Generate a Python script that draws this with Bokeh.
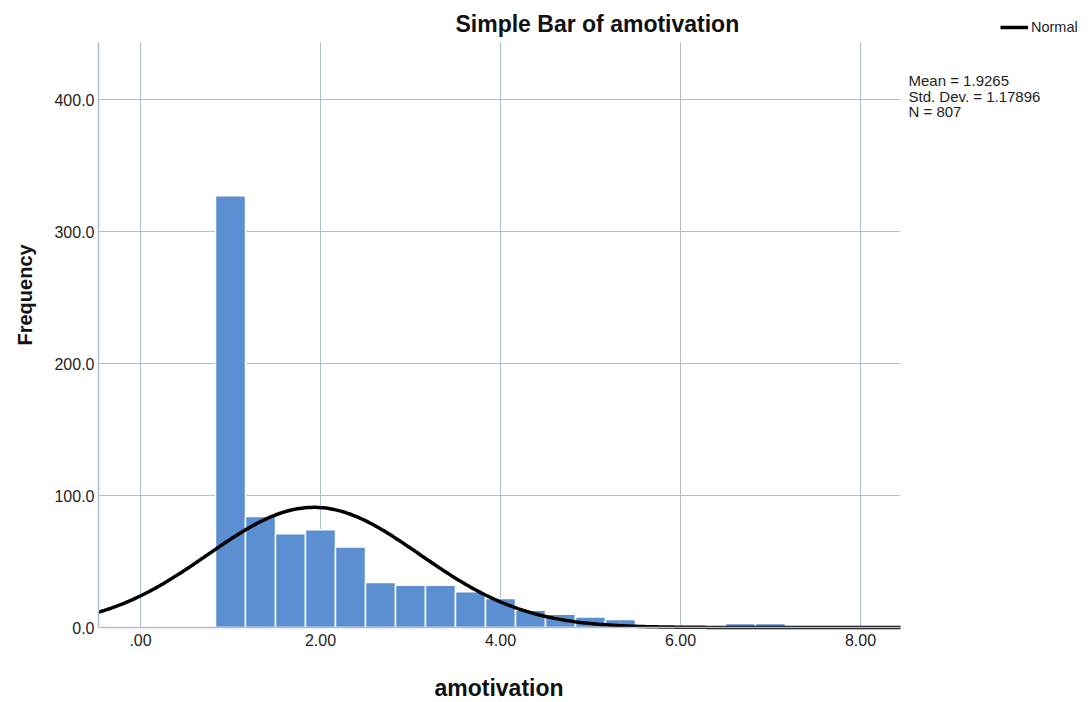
from bokeh.plotting import figure
from bokeh.models import (Range1d, FixedTicker, Label, Legend, LegendItem, Title,
                          ColumnDataSource, CustomJSTickFormatter)
from bokeh.embed import file_html
from bokeh.resources import INLINE
import numpy as np

# Histogram of amotivation scores (bins of width 1/3)
bin_width = 1.0 / 3.0
bin_centers = [1.0, 4/3, 5/3, 2.0, 7/3, 8/3, 3.0, 10/3, 11/3, 4.0, 13/3, 14/3, 5.0, 16/3, 20/3, 7.0]
frequencies = [327, 84, 71, 74, 61, 34, 32, 32, 27, 22, 13, 10, 8, 6, 3, 3]

# Summary statistics
mean = 1.9265
std_dev = 1.17896
n_obs = 807

x_ticks = [0, 2, 4, 6, 8]
x_tick_labels = [".00", "2.00", "4.00", "6.00", "8.00"]
y_ticks = [0, 100, 200, 300, 400]

FONT = "Liberation Sans"
GRID = "#b0bfcf"
BAR = "#5b8fd1"
TEXT = "#1e1e1e"

# Chart area extents (data units); the frame covers the whole canvas right of
# the y axis, so captions, legend and statistics can all live inside it.
X_MIN, X_MAX = -0.4667, 8.444
Y_MAX = 443.2
PX_PER_X = 90.0          # pixels per x unit
PX_PER_Y = 1.32          # pixels per count
LEFT, BOTTOM = 98, 627   # pixel position of the chart origin corner
W, H = 1090, 702


def sx(px):
    """Data x for a pixel column."""
    return X_MIN + (px - LEFT) / PX_PER_X


def sy(py):
    """Data y for a pixel row."""
    return (BOTTOM - py) / PX_PER_Y


p = figure(width=W, height=H, output_backend="svg", toolbar_location=None,
           title=None,
           x_range=Range1d(X_MIN, sx(W)), y_range=Range1d(sy(H), sy(0)),
           min_border_left=LEFT, min_border_right=0, min_border_top=0,
           min_border_bottom=0)
p.outline_line_color = None
p.xgrid.visible = False
p.ygrid.visible = False

# Grid lines, limited to the chart area
p.segment(x0=x_ticks, x1=x_ticks, y0=0, y1=Y_MAX, line_color=GRID, line_width=1)
p.segment(x0=X_MIN, x1=X_MAX, y0=y_ticks[1:], y1=y_ticks[1:], line_color=GRID, line_width=1)

# Bars
src = ColumnDataSource(dict(x=bin_centers, top=frequencies))
p.vbar(x="x", top="top", width=bin_width, source=src, fill_color=BAR,
       line_color="white", line_width=1.5)

# Normal curve scaled to counts per bin
xs = np.linspace(X_MIN, X_MAX, 400)
ys = n_obs * bin_width / (std_dev * np.sqrt(2 * np.pi)) * np.exp(-0.5 * ((xs - mean) / std_dev) ** 2)
curve = p.line(xs, ys, line_color="black", line_width=3.5)

# Axes
for ax in (p.xaxis[0], p.yaxis[0]):
    ax.axis_line_color = GRID
    ax.axis_line_width = 1.5
    ax.major_tick_out = 0
    ax.major_tick_in = 0
    ax.minor_tick_out = 0
    ax.minor_tick_in = 0
    ax.major_label_text_font = FONT
    ax.major_label_text_font_size = "16px"
    ax.major_label_text_color = TEXT

# x axis drawn at zero count, inside the frame
p.xaxis.fixed_location = 0
p.xaxis.bounds = (X_MIN, X_MAX)
p.xaxis.ticker = FixedTicker(ticks=x_ticks)
p.xaxis.major_label_overrides = {t: l for t, l in zip(x_ticks, x_tick_labels)}
p.xaxis.major_label_standoff = 6

p.yaxis.bounds = (0, Y_MAX)
p.yaxis.ticker = FixedTicker(ticks=y_ticks)
p.yaxis.formatter = CustomJSTickFormatter(code="return tick.toFixed(1);")
p.yaxis.major_label_standoff = 4

# y-axis caption
p.add_layout(Title(text="Frequency", align="left", offset=H - 345, standoff=27,
                   vertical_align="top",
                   text_font=FONT, text_font_size="20px", text_font_style="bold",
                   text_color="#111111"), "left")

# x-axis caption, centred under the chart area
p.add_layout(Label(x=sx(498.5), y=sy(687), text="amotivation",
                   text_font=FONT, text_font_size="23px", text_font_style="bold",
                   text_color="#111111", text_align="center", text_baseline="middle"))

# Title
p.add_layout(Label(x=sx(455), y=sy(23), text="Simple Bar of amotivation",
                   text_font=FONT, text_font_size="23px", text_font_style="bold",
                   text_color="#111111", text_baseline="middle"))

# Legend for the normal curve, top right
legend = Legend(items=[LegendItem(label="Normal", renderers=[curve])],
                location=(1000 - LEFT, H - 35), orientation="horizontal",
                padding=0, margin=0, spacing=0, glyph_width=28, glyph_height=16,
                label_height=16, label_standoff=3, label_text_font=FONT,
                label_text_font_size="14.5px", label_text_color=TEXT,
                label_text_baseline="middle",
                border_line_alpha=0, background_fill_alpha=0)
p.add_layout(legend, "center")

# Summary statistics
stats = [f"Mean = {mean}", f"Std. Dev. = {std_dev}", f"N = {n_obs}"]
for i, t in enumerate(stats):
    p.add_layout(Label(x=sx(908), y=sy(80 + 15.5 * i), text=t, text_font=FONT,
                       text_font_size="15px", text_color=TEXT,
                       text_baseline="middle"))

open("out.html", "w").write(file_html(p, INLINE))
